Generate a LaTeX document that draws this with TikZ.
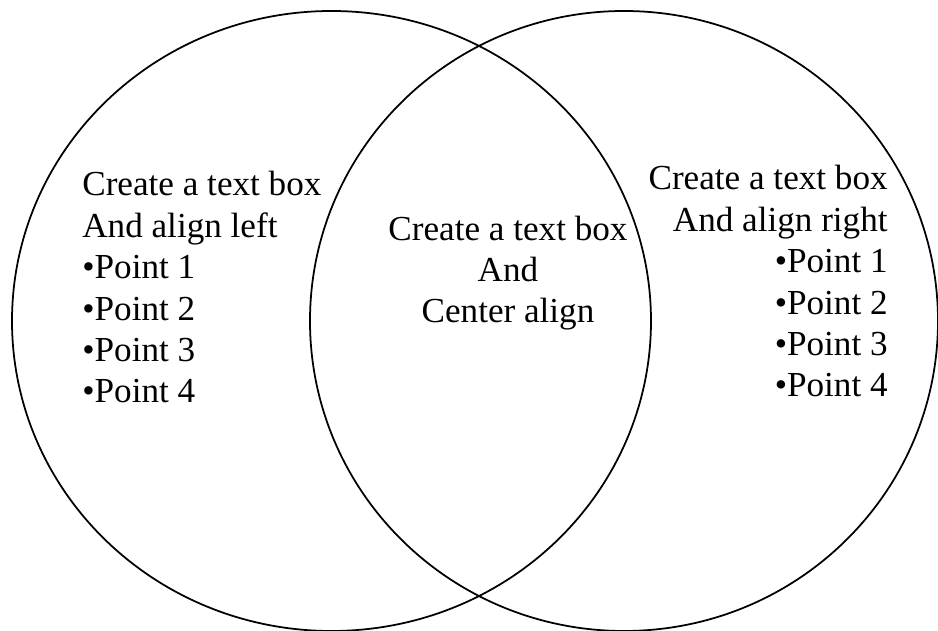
\documentclass[tikz,border=0pt]{standalone}
\usepackage{fontspec}
\setmainfont{Liberation Serif}
\usepackage{tikz}
\usetikzlibrary{positioning}

\begin{document}
\begin{tikzpicture}[x=0.02cm, y=-0.02cm,
    ring/.style={line width=1pt},
    blurb/.style={inner sep=0pt, font=\fontsize{20}{23.6}\selectfont}]
  % Frame
  \clip (0,0) rectangle (938,631);
  \fill[white] (0,0) rectangle (938,631);
  % Circles
  \draw[ring] (331.5,321) ellipse [x radius=319.5, y radius=310];
  \draw[ring] (624,321) ellipse [x radius=314, y radius=310];
  % Text boxes (anchored on the last line)
  \node[blurb, anchor=base west, align=left] (lefttxt) at (82,403)
    {Create a text box\\And align left\\•Point 1\\•Point 2\\•Point 3\\•Point 4};
  \node[blurb, anchor=base, align=center] (midtxt) at (508,323)
    {Create a text box\\And\\Center align};
  \node[blurb, anchor=base east, align=right] (righttxt) at (888,397)
    {Create a text box\\And align right\\•Point 1\\•Point 2\\•Point 3\\•Point 4};
\end{tikzpicture}
\end{document}
